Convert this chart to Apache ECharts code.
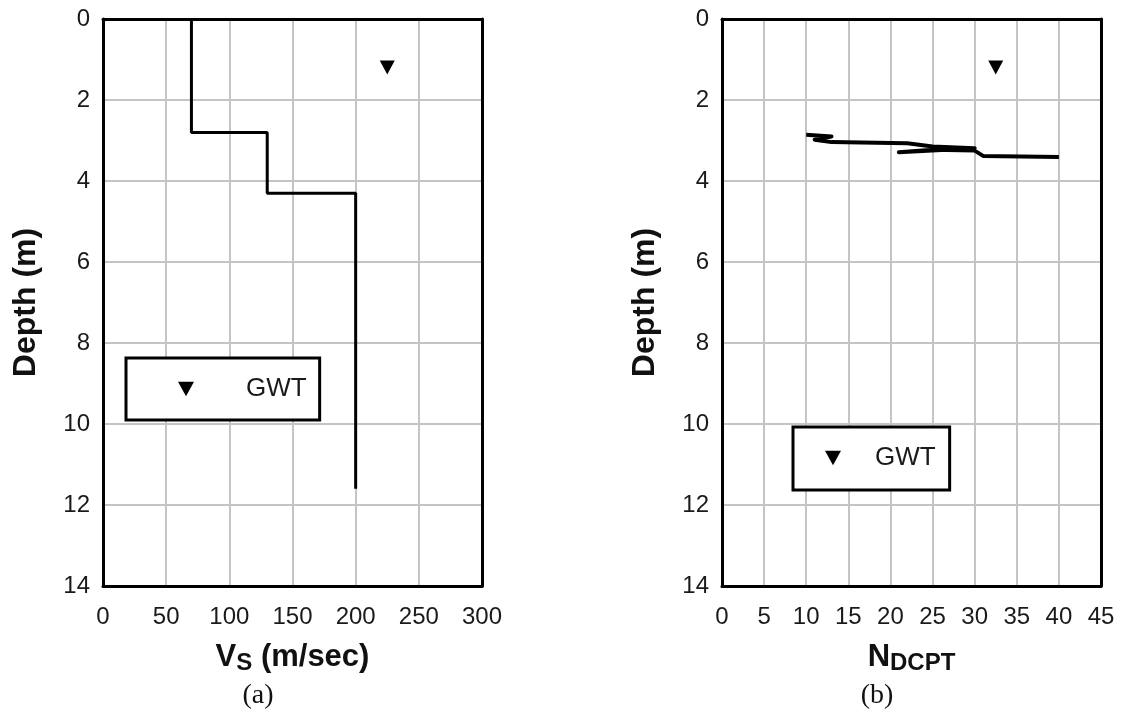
<!DOCTYPE html>
<html>
<head>
<meta charset="utf-8">
<script src="https://cdn.jsdelivr.net/npm/echarts@6/dist/echarts.min.js"></script>
<style>
  html, body { margin: 0; padding: 0; background: #fff; }
  #chart { width: 1124px; height: 716px; }
</style>
</head>
<body>
<div id="chart"></div>
<script>
// 剪切波速剖面 (a)
var vsValues = [70, 70, 130, 130, 200, 200];
var vsDepths = [0, 2.8, 2.8, 4.3, 4.3, 11.6];
// DCPT 剖面 (b)
var nValues = [10, 13, 11, 13, 22, 25, 30, 21, 25, 30, 31, 40];
var nDepths = [2.86, 2.90, 2.98, 3.04, 3.07, 3.15, 3.19, 3.29, 3.23, 3.25, 3.38, 3.41];
// 地下水位
var gwtA = [225, 1.2];
var gwtB = [32.5, 1.2];
var depthTicks = [0, 14, 2];
var vsTicks = [0, 300, 50];
var nTicks = [0, 45, 5];

var FONT = 'Arial, "Liberation Sans", sans-serif';
var TRI = 'path://M0,0 L10,0 L5,9 Z';

function pairs(xs, ys) {
	return xs.map(function(x, i) { return [x, ys[i]]; });
}

function mainX(grid, ticks, name) {
	return {
		type: 'value', gridIndex: grid, position: 'bottom',
		min: ticks[0], max: ticks[1], interval: ticks[2],
		axisLine: { show: true, onZero: false, lineStyle: { color: '#000', width: 3 } },
		axisTick: { show: false },
		axisLabel: { color: '#1a1a1a', fontSize: 24, fontFamily: FONT, margin: 19 },
		splitLine: { show: true, showMinLine: false, showMaxLine: false, lineStyle: { color: '#c4c4c4', width: 2 } },
		name: name, nameLocation: 'middle', nameGap: 53,
		nameTextStyle: {
			rich: {
				b: { fontSize: 31, fontWeight: 'bold', fontFamily: FONT, color: '#111', lineHeight: 36 },
				s: { fontSize: 24, fontWeight: 'bold', fontFamily: FONT, color: '#111', lineHeight: 20, verticalAlign: 'bottom' }
			}
		}
	};
}
function borderX(grid, ticks) {
	return {
		type: 'value', gridIndex: grid, position: 'top',
		min: ticks[0], max: ticks[1], interval: ticks[2],
		axisLine: { show: true, onZero: false, lineStyle: { color: '#000', width: 3 } },
		axisTick: { show: false }, axisLabel: { show: false }, splitLine: { show: false }
	};
}
function mainY(grid) {
	return {
		type: 'value', gridIndex: grid, position: 'left', inverse: true,
		min: depthTicks[0], max: depthTicks[1], interval: depthTicks[2],
		axisLine: { show: true, onZero: false, lineStyle: { color: '#000', width: 3 } },
		axisTick: { show: false },
		axisLabel: { color: '#1a1a1a', fontSize: 24, fontFamily: FONT, margin: 13 },
		splitLine: { show: true, showMinLine: false, showMaxLine: false, lineStyle: { color: '#c4c4c4', width: 2 } },
		name: 'Depth (m)', nameLocation: 'middle', nameGap: 61,
		nameTextStyle: { fontSize: 32, fontWeight: 'bold', fontFamily: FONT, color: '#111' }
	};
}
function borderY(grid) {
	return {
		type: 'value', gridIndex: grid, position: 'right', inverse: true,
		min: depthTicks[0], max: depthTicks[1], interval: depthTicks[2],
		axisLine: { show: true, onZero: false, lineStyle: { color: '#000', width: 3 } },
		axisTick: { show: false }, axisLabel: { show: false }, splitLine: { show: false }
	};
}
function legendBox(left, top, pad, textPadLeft) {
	return {
		data: [{ name: 'GWT', icon: TRI, itemStyle: { color: '#000' } }],
		selectedMode: false,
		left: left, top: top,
		padding: pad,
		itemWidth: 16, itemHeight: 15,
		borderColor: '#000', borderWidth: 3, borderRadius: 0,
		backgroundColor: '#fff',
		textStyle: { fontSize: 26, fontFamily: FONT, color: '#1a1a1a', lineHeight: 26, padding: [0, 0, 0, textPadLeft] }
	};
}

var myChart = echarts.init(document.getElementById('chart'));
var option = {
	animation: false,
	backgroundColor: '#fff',
	grid: [
		{ left: 103, top: 19, width: 379, height: 567 },
		{ left: 722, top: 19, width: 379, height: 567 }
	],
	xAxis: [
		mainX(0, vsTicks, '{b|V}{s|S}{b| (m/sec)}'),
		borderX(0, vsTicks),
		mainX(1, nTicks, '{b|N}{s|DCPT}'),
		borderX(1, nTicks)
	],
	yAxis: [mainY(0), borderY(0), mainY(1), borderY(1)],
	legend: [
		legendBox(126, 358, [18, 13, 18, 52], 47),
		legendBox(793, 427, [18, 14, 19, 32], 29)
	],
	title: [
		{ text: '(a)', left: 258, top: 682, textAlign: 'center', padding: 0,
		  textStyle: { fontSize: 28, fontWeight: 'normal', fontFamily: '"Liberation Serif", "Times New Roman", serif', color: '#111' } },
		{ text: '(b)', left: 877, top: 682, textAlign: 'center', padding: 0,
		  textStyle: { fontSize: 28, fontWeight: 'normal', fontFamily: '"Liberation Serif", "Times New Roman", serif', color: '#111' } }
	],
	series: [
		{
			name: 'Vs', type: 'line', xAxisIndex: 0, yAxisIndex: 0,
			data: pairs(vsValues, vsDepths),
			showSymbol: false, symbol: 'none',
			lineStyle: { color: '#000', width: 3 }, z: 5
		},
		{
			name: 'GWT', type: 'scatter', xAxisIndex: 0, yAxisIndex: 0,
			data: [gwtA], symbol: TRI, symbolSize: [15, 14],
			itemStyle: { color: '#000', opacity: 1 }, z: 5
		},
		{
			name: 'NDCPT', type: 'line', xAxisIndex: 2, yAxisIndex: 2,
			data: pairs(nValues, nDepths),
			showSymbol: false, symbol: 'none',
			lineStyle: { color: '#000', width: 4, join: 'round' }, z: 5
		},
		{
			name: 'GWT', type: 'scatter', xAxisIndex: 2, yAxisIndex: 2,
			data: [gwtB], symbol: TRI, symbolSize: [15, 14],
			itemStyle: { color: '#000', opacity: 1 }, z: 5
		}
	]
};
myChart.setOption(option);
window.onresize = myChart.resize;
</script>
</body>
</html>
